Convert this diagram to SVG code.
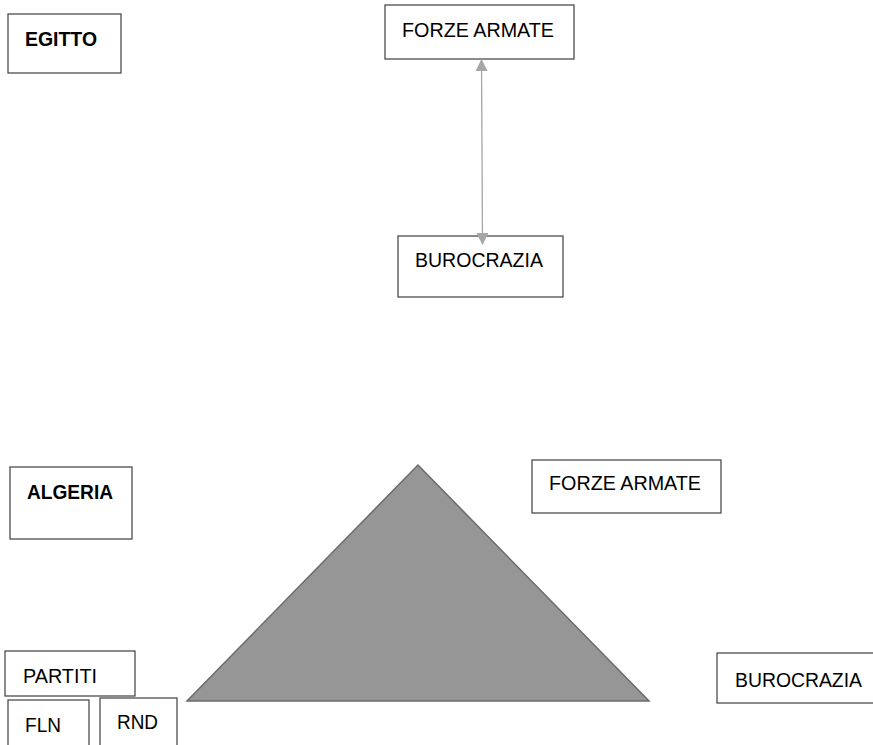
<svg xmlns="http://www.w3.org/2000/svg" width="873" height="745" viewBox="0 0 873 745">
<style>
.box{fill:#fff;stroke:#3f3f3f;stroke-width:1.2}
.t{font-family:"Liberation Sans",Arial,sans-serif;font-size:20.5px;fill:#000}
.b{font-weight:bold}
.conn{stroke:#a6a6a6;stroke-width:1.3;fill:none}
</style>
<defs>
<marker id="ah" viewBox="0 0 12 12" refX="11" refY="6" markerWidth="12" markerHeight="12" markerUnits="userSpaceOnUse" orient="auto-start-reverse">
<path d="M0,0 L12,6 L0,12 Z" fill="#a6a6a6"/>
</marker>
</defs>
<rect width="873" height="745" fill="#fff"/>
<g id="egitto"><rect class="box" x="8" y="14" width="113" height="59"/><text class="t b" x="25" y="46" textLength="72" lengthAdjust="spacingAndGlyphs">EGITTO</text></g>
<g id="forze-armate-1"><rect class="box" x="385" y="5" width="189" height="54"/><text class="t" x="402" y="37" textLength="152" lengthAdjust="spacingAndGlyphs">FORZE ARMATE</text></g>
<g id="burocrazia-1"><rect class="box" x="398" y="236" width="165" height="61"/><text class="t" x="415" y="267" textLength="128" lengthAdjust="spacingAndGlyphs">BUROCRAZIA</text></g>
<g id="algeria"><rect class="box" x="10" y="467" width="122" height="72"/><text class="t b" x="27" y="499" textLength="86" lengthAdjust="spacingAndGlyphs">ALGERIA</text></g>
<g id="forze-armate-2"><rect class="box" x="532" y="460" width="189" height="53"/><text class="t" x="549" y="490" textLength="152" lengthAdjust="spacingAndGlyphs">FORZE ARMATE</text></g>
<g id="piramide"><polygon points="418,465 187,701 649,701" fill="#969696" stroke="#6b6b6b" stroke-width="1.5"/></g>
<g id="partiti"><rect class="box" x="5" y="651" width="130" height="45"/><text class="t" x="23" y="683" textLength="74" lengthAdjust="spacingAndGlyphs">PARTITI</text></g>
<g id="fln"><rect class="box" x="8" y="700" width="81" height="50"/><text class="t" x="25" y="732" textLength="36" lengthAdjust="spacingAndGlyphs">FLN</text></g>
<g id="rnd"><rect class="box" x="100" y="698" width="77" height="52"/><text class="t" x="117" y="729" textLength="41" lengthAdjust="spacingAndGlyphs">RND</text></g>
<g id="burocrazia-2"><rect class="box" x="717" y="653" width="160" height="50"/><text class="t" x="735" y="687" textLength="127" lengthAdjust="spacingAndGlyphs">BUROCRAZIA</text></g>
<g id="connectors"><line class="conn" x1="481.5" y1="60" x2="482.5" y2="244" marker-start="url(#ah)" marker-end="url(#ah)"/></g>
</svg>
